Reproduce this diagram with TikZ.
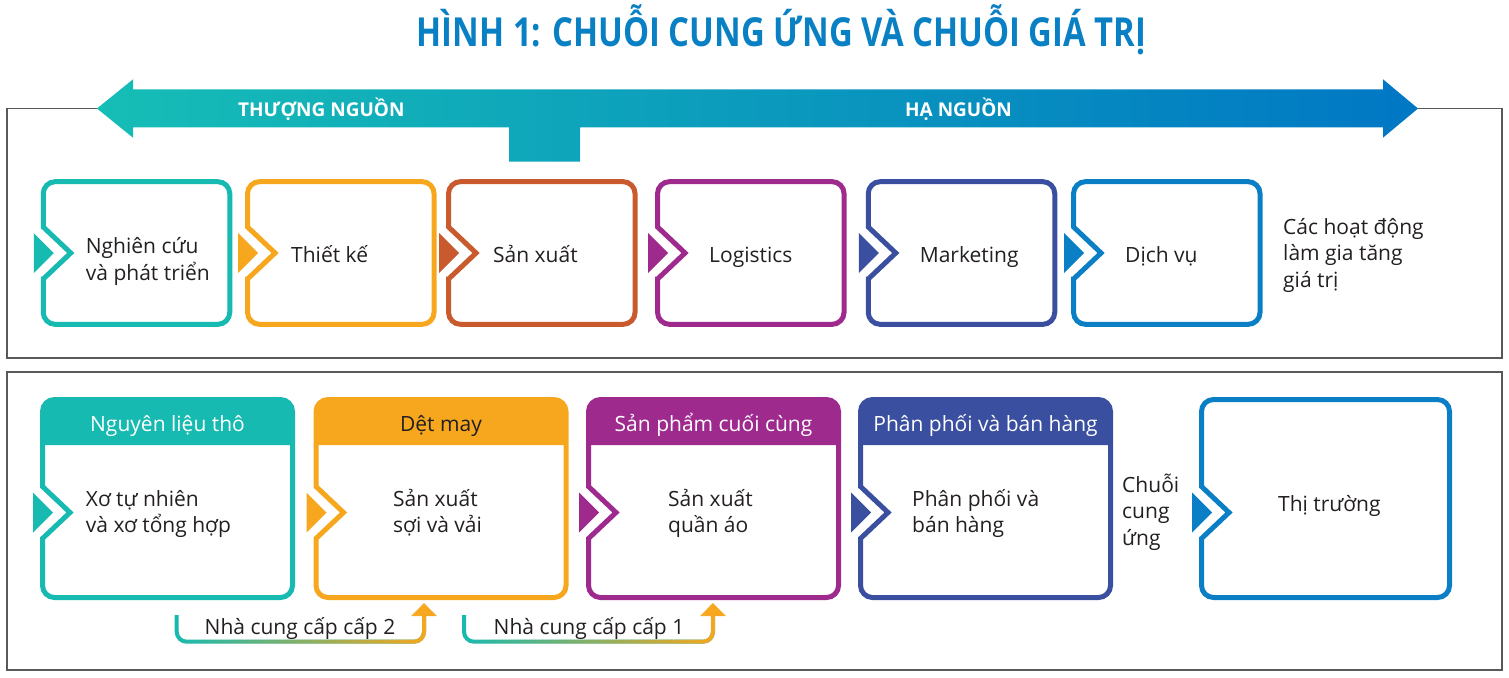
\documentclass[tikz,border=0pt]{standalone}
\usepackage{fontspec}
\setmainfont{Open Sans}
\usepackage{graphicx}
\usetikzlibrary{positioning,calc,fadings,arrows.meta}

\definecolor{cteal}{RGB}{22,186,176}
\definecolor{corange}{RGB}{247,167,30}
\definecolor{crust}{RGB}{200,90,45}
\definecolor{cpurple}{RGB}{158,42,142}
\definecolor{cindigo}{RGB}{59,79,161}
\definecolor{cblue}{RGB}{10,127,198}
\definecolor{ctitle}{RGB}{10,128,196}
\definecolor{ctext}{RGB}{35,31,32}
\definecolor{arrowa}{RGB}{22,190,182}
\definecolor{arrowb}{RGB}{0,152,200}
\definecolor{arrowc}{RGB}{0,119,196}

\tikzfading[name=fadeorange, left color=transparent!100, right color=transparent!0]

% box outline with the notch on its left side
\newcommand\notchbox[3]{%
  \coordinate (#1-n) at ([yshift=-#3pt]#1.west);
  \fill[#2] ([xshift=-9.5pt,yshift=20pt]#1-n) -- ([xshift=10.5pt]#1-n)
    -- ([xshift=-9.5pt,yshift=-20pt]#1-n) -- cycle;
  \draw[#2, line width=5pt] ([xshift=27.5pt]#1-n) -- ([yshift=26pt]#1-n)
    -- ($(#1-n)!.5!(#1.north west)$) [rounded corners=12pt] -- (#1.north west)
    -- (#1.north east) -- (#1.south east) -- (#1.south west)
    -- ($(#1-n)!.5!(#1.south west)$) [sharp corners] -- ([yshift=-26pt]#1-n) -- cycle;
}
% coloured head of a lower box
\newcommand\headfill[2]{%
  \fill[#2] ([yshift=-45.5pt]#1.north west) -- ([yshift=-20pt]#1.north west)
    [rounded corners=12pt] -- (#1.north west) -- (#1.north east)
    -- ([yshift=-20pt]#1.north east) [sharp corners] -- ([yshift=-45.5pt]#1.north east) -- cycle;
}

\tikzset{
  topbox/.style={minimum width=186.5pt, minimum height=142.7pt, inner sep=0pt, outer sep=0pt},
  lowbox/.style={minimum width=250pt, minimum height=198pt, inner sep=0pt, outer sep=0pt},
  lbl/.style={inner sep=0pt, anchor=base west, align=left, text=ctext, font=\fontsize{21}{26.5}\selectfont},
  headlbl/.style={inner sep=0pt, anchor=base, font=\fontsize{21}{26.5}\selectfont},
  streamlbl/.style={inner sep=0pt, anchor=base west, text=white, font=\bfseries\fontsize{19}{19}\selectfont},
  zone/.style={draw=black!65, line width=1.2pt},
  supply/.style={line width=4pt, rounded corners=10pt},
}

\begin{document}
\begin{tikzpicture}[x=1pt,y=-1pt]
\useasboundingbox (0,0) rectangle (1509,677);

\node[anchor=base west, inner sep=0pt, text=ctitle, font=\bfseries\fontsize{40}{40}\selectfont]
  (title) at (416.7,46.7) {\scalebox{0.82}[1]{HÌNH 1: CHUỖI CUNG ỨNG VÀ CHUỖI GIÁ TRỊ}};

% frames
\draw[zone] (7,108.5) rectangle (1502,358);
\draw[zone] (7,372) rectangle (1502,670);

% upstream / downstream arrow
\shade[left color=arrowa, middle color=arrowb, right color=arrowc]
  (97,108.5) -- (133,79.3) -- (133,89.3) -- (1383,89.3) -- (1383,79.3) -- (1418,108.5)
  -- (1383,137.7) -- (1383,127.3) -- (580,127.3) -- (580,161.7) -- (509,161.7)
  -- (509,127.3) -- (133,127.3) -- (133,137.7) -- cycle;
\node[streamlbl] (up) at (238,116.7) {THƯỢNG NGUỒN};
\node[streamlbl] (down) at (905,116.7) {HẠ NGUỒN};

% value chain
\foreach \n/\x/\c in {v1/136.5/cteal, v2/340.8/corange, v3/541.8/crust,
                      v4/750.8/cpurple, v5/961.5/cindigo, v6/1166.8/cblue} {
  \node[topbox] (\n) at (\x,253) {};
  \notchbox{\n}{\c}{0}
}
\node[lbl] (t1) at (85.7,280) {Nghiên cứu\\và phát triển};
\foreach \n/\x/\t in {t2/291/Thiết kế, t3/493/Sản xuất, t4/709/Logistics,
                      t5/919.6/Marketing, t6/1125/Dịch vụ}
  \node[lbl] (\n) at (\x,262) {\t};
\node[lbl] (va) at (1283,287) {Các hoạt động\\làm gia tăng\\giá trị};

% supply chain
\foreach \n/\x/\c in {w1/167.5/cteal, w2/441/corange, w3/713.5/cpurple, w4/985.5/cindigo} {
  \node[lowbox] (\n) at (\x,498.5) {};
  \headfill{\n}{\c}
  \notchbox{\n}{\c}{14}
}
\node[lowbox, minimum width=248pt] (w5) at (1325.5,498.5) {};
\notchbox{w5}{cblue}{14}

\node[headlbl, text=white] (h1) at ([yshift=-32.2pt]w1.north) {Nguyên liệu thô};
\node[headlbl, text=ctext] (h2) at ([yshift=-32.2pt]w2.north) {Dệt may};
\node[headlbl, text=white] (h3) at ([yshift=-32.2pt]w3.north) {Sản phẩm cuối cùng};
\node[headlbl, text=white] (h4) at ([yshift=-32.2pt]w4.north) {Phân phối và bán hàng};

\node[lbl] (b1) at (85.7,532.5) {Xơ tự nhiên\\và xơ tổng hợp};
\node[lbl] (b2) at (393,532.5) {Sản xuất\\sợi và vải};
\node[lbl] (b3) at (668,532.5) {Sản xuất\\quần áo};
\node[lbl] (b4) at (912,532.5) {Phân phối và\\bán hàng};
\node[lbl] (b5) at (1278,511.7) {Thị trường};
\node[lbl] (sc) at (1122,545) {Chuỗi\\cung\\ứng};

% suppliers
\coordinate (s2a) at (176.7,615);
\coordinate (s2b) at (424,603);
\coordinate (s1a) at (464,615);
\coordinate (s1b) at (713,603);
\foreach \a/\b in {s2a/s2b, s1a/s1b} {
  \draw[supply, cteal, shorten >=10pt] (\a) |- ($(\a)!.5!(\b)+(0,32.7)$) -| (\b);
  \draw[supply, corange, path fading=fadeorange, -{Triangle[width=25pt,length=13pt]}]
    (\a) |- ($(\a)!.5!(\b)+(0,32.7)$) -| (\b);
}
\node[headlbl, text=ctext] (n2) at (300,634) {Nhà cung cấp cấp 2};
\node[headlbl, text=ctext] (n1) at (589,634) {Nhà cung cấp cấp 1};
\end{tikzpicture}
\end{document}
